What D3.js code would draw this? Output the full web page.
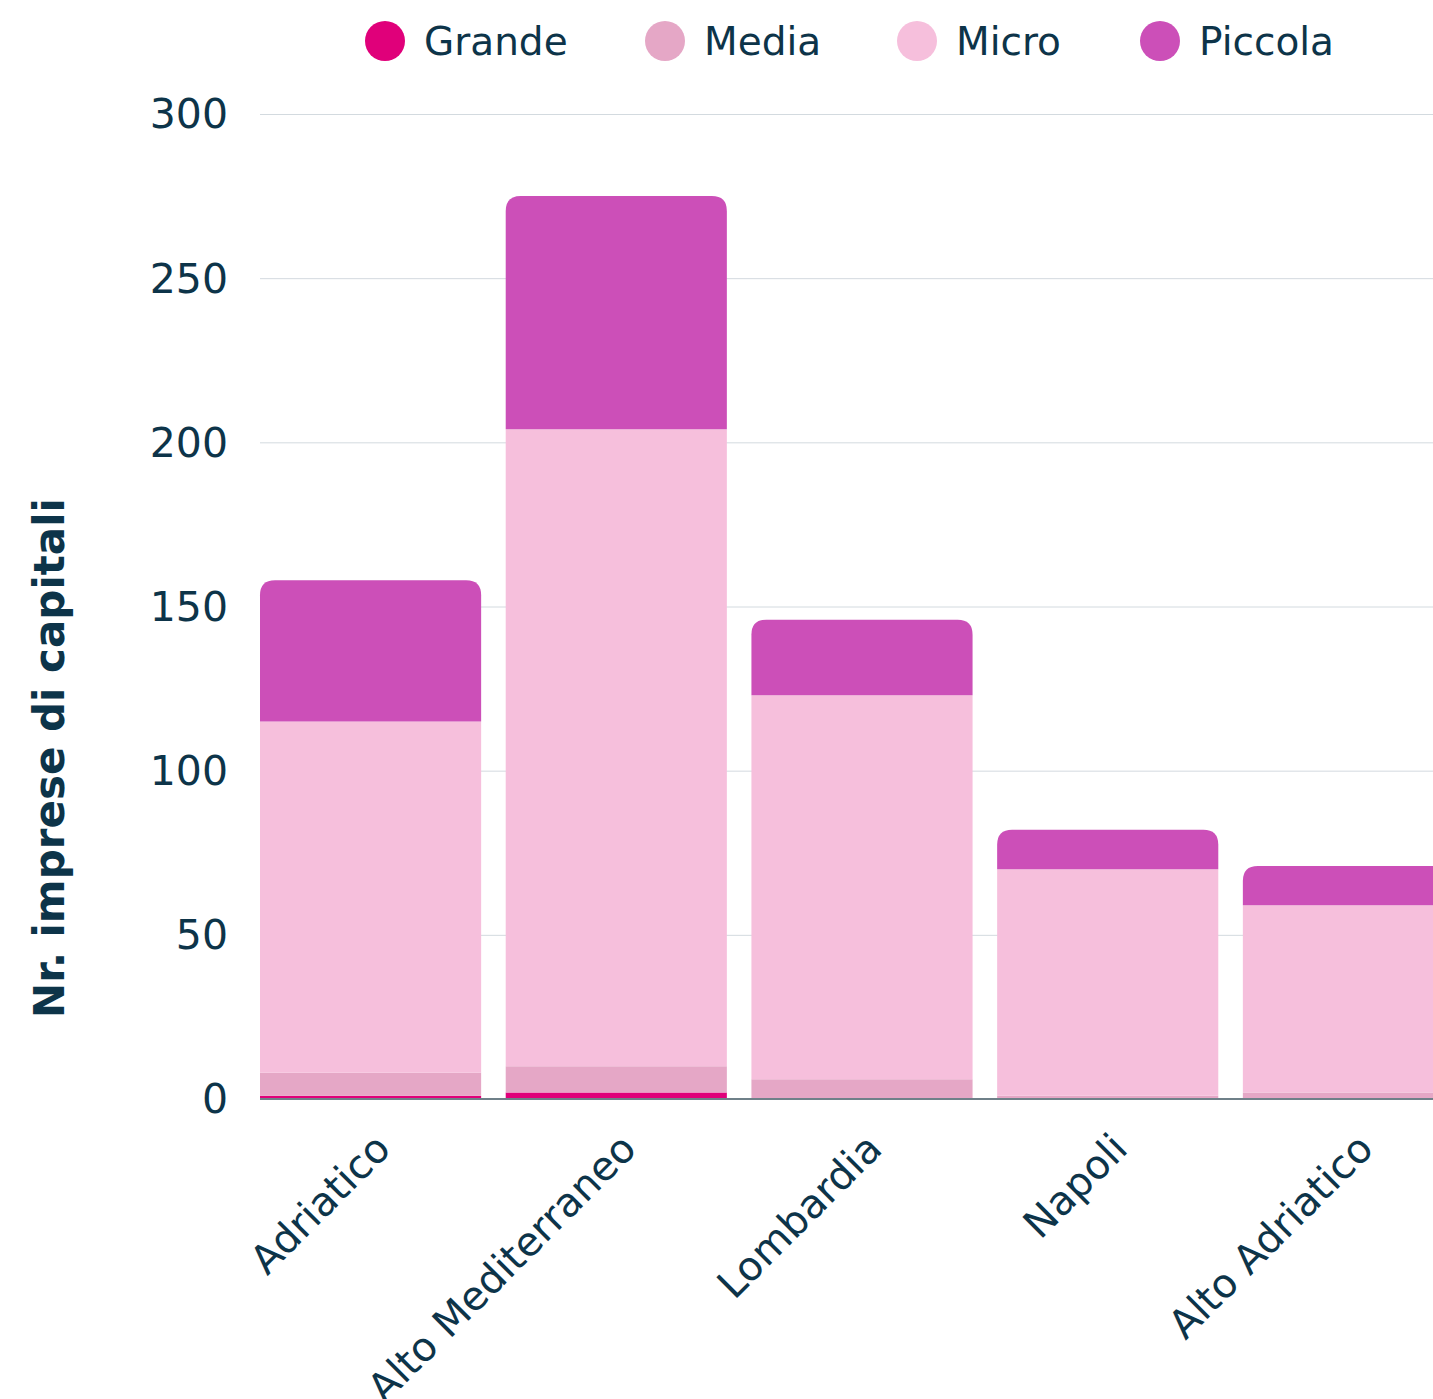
<!DOCTYPE html>
<html>
<head>
<meta charset="utf-8">
<script src="https://cdn.jsdelivr.net/npm/d3@7"></script>
<style>
  body { margin: 0; background: #fff; overflow: hidden; }
  text { font-family: "DejaVu Sans", sans-serif; fill: #0d3449; }
</style>
</head>
<body>
<div id="chart"></div>
<script>
// data
let categories = ['Adriatico', 'Alto Mediterraneo', 'Lombardia', 'Napoli', 'Alto Adriatico'];
let seriesNames = ['Grande', 'Media', 'Micro', 'Piccola'];
let grande = [1, 2, 0, 0, 0];
let media = [7, 8, 6, 1, 2];
let micro = [107, 194, 117, 69, 57];
let piccola = [43, 71, 23, 12, 12];
let yTicks = [0, 50, 100, 150, 200, 250, 300];

let colors = ['#e0007a', '#e5a7c6', '#f6bfdc', '#cc4fb8'];

// svg definitions
let svgWidth = 1433;
let svgHeight = 1399;

let margin = { top: 114, left: 260, bottom: 300 };
let plotRight = 1464;
let height = svgHeight - margin.top - margin.bottom;

let svg = d3.select('#chart').append('svg')
  .attr('width', svgWidth)
  .attr('height', svgHeight);

// build table for stacking
let table = categories.map((c, i) => ({
  cat: c, Grande: grande[i], Media: media[i], Micro: micro[i], Piccola: piccola[i]
}));
let stacked = d3.stack().keys(seriesNames)(table);

let x = d3.scaleBand()
  .domain(categories)
  .range([margin.left, plotRight])
  .paddingInner(0.1)
  .paddingOuter(0);

let y = d3.scaleLinear()
  .domain([0, 300])
  .range([margin.top + height, margin.top]);

let color = d3.scaleOrdinal().domain(seriesNames).range(colors);

// grid lines
svg.append('g')
  .selectAll('line')
  .data(yTicks.filter(t => t > 0))
  .join('line')
  .attr('x1', margin.left)
  .attr('x2', svgWidth)
  .attr('y1', d => y(d) + 0.5)
  .attr('y2', d => y(d) + 0.5)
  .attr('stroke', '#d3dadf')
  .attr('stroke-width', 1);

// y axis labels
let yAxis = svg.append('g')
  .attr('transform', `translate(${margin.left}, 0)`)
  .call(d3.axisLeft(y).tickValues(yTicks).tickSize(0).tickPadding(32));
yAxis.select('.domain').remove();
yAxis.selectAll('text')
  .attr('font-size', '41px')
  .attr('dy', '0.34em')
  .attr('fill', '#0d3449');

// bars: only top segment gets rounded corners
let r = 15;
function barPath(x0, x1, yTop, yBottom, rounded) {
  let h = yBottom - yTop;
  if (h <= 0) return '';
  if (!rounded) return `M${x0},${yBottom}V${yTop}H${x1}V${yBottom}Z`;
  let rr = Math.min(r, h, (x1 - x0) / 2);
  return `M${x0},${yBottom}V${yTop + rr}Q${x0},${yTop} ${x0 + rr},${yTop}` +
    `H${x1 - rr}Q${x1},${yTop} ${x1},${yTop + rr}V${yBottom}Z`;
}

stacked.forEach((layer, li) => {
  svg.append('g')
    .attr('fill', color(layer.key))
    .selectAll('path')
    .data(layer)
    .join('path')
    .attr('d', d => {
      let x0 = x(d.data.cat);
      let x1 = x0 + x.bandwidth();
      return barPath(x0, x1, y(d[1]), y(d[0]), li === stacked.length - 1);
    });
});

// baseline
svg.append('line')
  .attr('x1', margin.left)
  .attr('x2', svgWidth)
  .attr('y1', y(0))
  .attr('y2', y(0))
  .attr('stroke', '#6f8089')
  .attr('stroke-width', 2);

// x axis labels
let xAxis = svg.append('g')
  .attr('transform', `translate(0, ${y(0)})`)
  .call(d3.axisBottom(x).tickSize(0).tickPadding(0));
xAxis.select('.domain').remove();
xAxis.selectAll('text')
  .attr('font-size', '40px')
  .attr('fill', '#0d3449')
  .attr('text-anchor', 'end')
  .attr('dy', 0)
  .attr('transform', 'translate(22, 52) rotate(-45)');

// y axis title
svg.append('text')
  .attr('transform', `translate(64, 758) rotate(-90)`)
  .attr('text-anchor', 'middle')
  .attr('font-size', '42px')
  .attr('font-weight', 700)
  .text('Nr. imprese di capitali');

// legend
let legendX = [385, 665, 917, 1160];
let legend = svg.append('g')
  .selectAll('g')
  .data(seriesNames)
  .join('g')
  .attr('transform', (d, i) => `translate(${legendX[i]}, 41)`);
legend.append('circle')
  .attr('r', 20)
  .attr('fill', d => color(d));
legend.append('text')
  .attr('x', 39)
  .attr('dy', '0.35em')
  .attr('font-size', '39px')
  .text(d => d);
</script>
</body>
</html>
